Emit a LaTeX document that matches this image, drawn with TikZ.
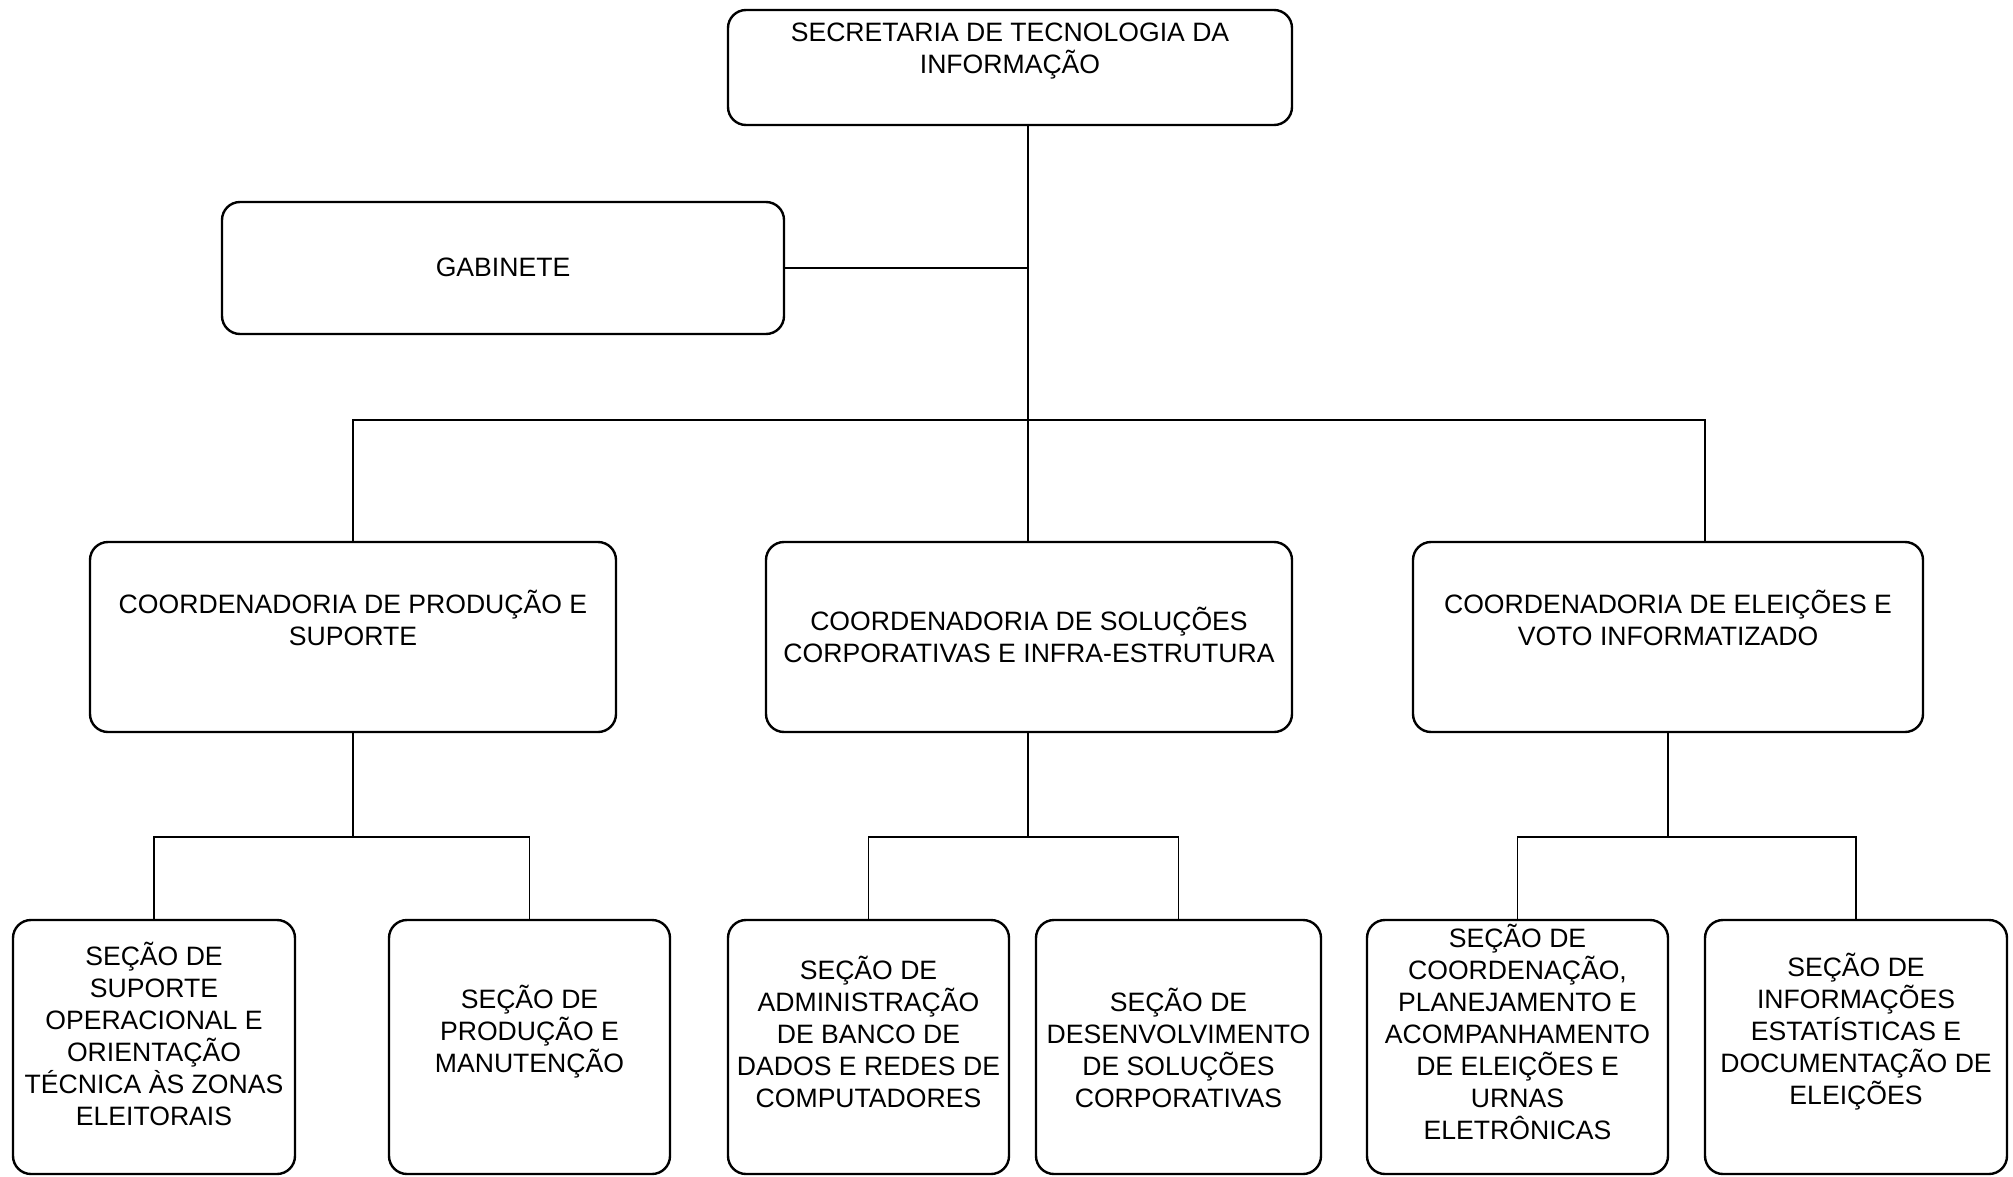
\documentclass[tikz,border=0pt]{standalone}
\usepackage{fontspec}
\setmainfont{Liberation Sans}
\usetikzlibrary{positioning}

\begin{document}
\begin{tikzpicture}[x=0.5pt,y=-0.5pt]
\tikzstyle{every node}+=[inner sep=0pt]
\tikzstyle{unit}=[draw=black, line width=1.2pt, rounded corners=9pt, rectangle]
\tikzstyle{txt}=[align=center, font=\fontsize{13.3}{16}\selectfont]
\tikzstyle{link}=[black, line width=0.6pt]
\useasboundingbox (0,0) rectangle (2013,1177);
\node [unit, minimum width=282pt, minimum height=57.5pt] (sec) at (1010,67.5) {};
\node [txt] (sect) at (1010,50.75) {SECRETARIA DE TECNOLOGIA DA\\INFORMAÇÃO};
\node [unit, minimum width=281pt, minimum height=66pt] (gab) at (503,268) {};
\node [txt] (gabt) at (503,267) {GABINETE};
\node [unit, minimum width=263pt, minimum height=95pt] (cps) at (353,637) {};
\node [txt] (cpst) at (353,617.5) {COORDENADORIA DE PRODUÇÃO E\\SUPORTE};
\node [unit, minimum width=263pt, minimum height=95pt] (csc) at (1029,637) {};
\node [txt] (csct) at (1029,635) {COORDENADORIA DE SOLUÇÕES\\CORPORATIVAS E INFRA-ESTRUTURA};
\node [unit, minimum width=255pt, minimum height=95pt] (cev) at (1668,637) {};
\node [txt] (cevt) at (1668,617.5) {COORDENADORIA DE ELEIÇÕES E\\VOTO INFORMATIZADO};
\node [unit, minimum width=141pt, minimum height=127pt] (b1) at (154,1047) {};
\node [txt] (b1t) at (154,1034) {SEÇÃO DE\\SUPORTE\\OPERACIONAL E\\ORIENTAÇÃO\\TÉCNICA ÀS ZONAS\\ELEITORAIS};
\node [unit, minimum width=140.5pt, minimum height=127pt] (b2) at (529.5,1047) {};
\node [txt] (b2t) at (529.5,1032) {SEÇÃO DE\\PRODUÇÃO E\\MANUTENÇÃO};
\node [unit, minimum width=140.5pt, minimum height=127pt] (b3) at (868.5,1047) {};
\node [txt] (b3t) at (868.5,1032) {SEÇÃO DE\\ADMINISTRAÇÃO\\DE BANCO DE\\DADOS E REDES DE\\COMPUTADORES};
\node [unit, minimum width=142.5pt, minimum height=127pt] (b4) at (1178.5,1047) {};
\node [txt] (b4t) at (1178.5,1048) {SEÇÃO DE\\DESENVOLVIMENTO\\DE SOLUÇÕES\\CORPORATIVAS};
\node [unit, minimum width=150.5pt, minimum height=127pt] (b5) at (1517.5,1047) {};
\node [txt] (b5t) at (1517.5,1032) {SEÇÃO DE\\COORDENAÇÃO,\\PLANEJAMENTO E\\ACOMPANHAMENTO\\DE ELEIÇÕES E\\URNAS\\ELETRÔNICAS};
\node [unit, minimum width=151pt, minimum height=127pt] (b6) at (1856,1047) {};
\node [txt] (b6t) at (1856,1032) {SEÇÃO DE\\INFORMAÇÕES\\ESTATÍSTICAS E\\DOCUMENTAÇÃO DE\\ELEIÇÕES};
\coordinate (bus) at (1028,420);
\coordinate (cevin) at (1705,542);
\coordinate (j1) at (353,837);
\coordinate (j2) at (1028,837);
\coordinate (j3) at (1668,837);
\draw [link] (sec.south -| bus) -- (bus);
\draw [link] (gab.east) -- (gab.east -| bus);
\draw [link] (cps.north) |- (bus) -| (cevin);
\draw [link] (bus) -- (bus |- csc.north);
\draw [link] (csc.south -| j2) -- (j2);
\draw [link] (cps.south) -- (j1);
\draw [link] (b1.north) |- (j1) -| (b2.north);
\draw [link] (b3.north) |- (j2) -| (b4.north);
\draw [link] (cev.south) -- (j3);
\draw [link] (b5.north) |- (j3) -| (b6.north);
\end{tikzpicture}
\end{document}
